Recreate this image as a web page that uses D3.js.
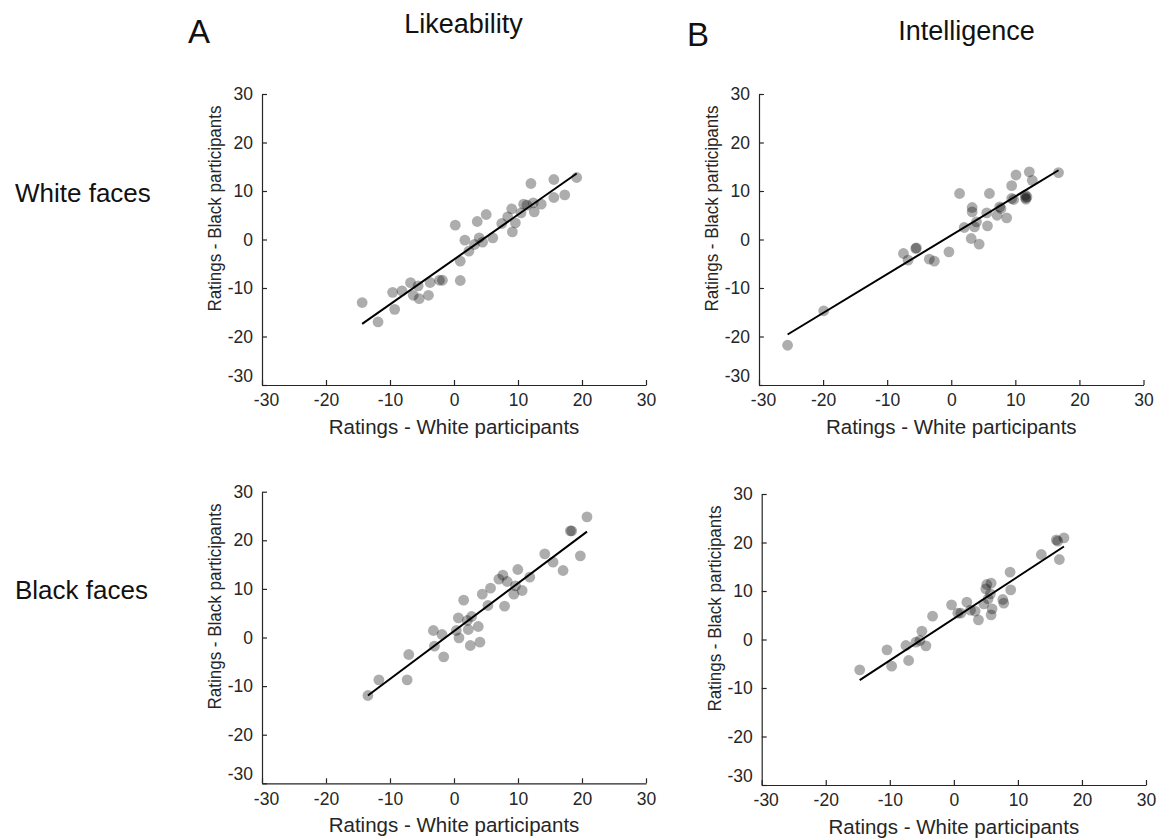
<!DOCTYPE html>
<html>
<head>
<meta charset="utf-8">
<script src="https://cdn.jsdelivr.net/npm/d3@7"></script>
<style>
  html, body { margin: 0; padding: 0; background: #fff; }
  svg { display: block; font-family: "Liberation Sans", Arial, sans-serif; }
</style>
</head>
<body>
<svg id="fig" width="1163" height="840"></svg>
<script>
// Mean ratings per face: White participants (x) vs Black participants (y)
const likeWhiteX = [-14.35,-11.87,-9.59,-9.27,-8.13,-6.79,-6.37,-5.6,-5.44,-3.99,-3.73,-2.28,-1.81,0.2,0.98,0.98,1.7,2.33,3.2,3.63,3.94,4.46,5.03,6.06,7.46,8.39,9.02,9.12,9.59,10.47,10.88,11.4,12.02,12.38,12.54,13.63,15.6,15.6,17.3,19.17];
const likeWhiteY = [-13.0,-17.0,-10.9,-14.4,-10.6,-8.9,-11.5,-9.55,-12.2,-11.5,-8.87,-8.4,-8.4,2.96,-4.47,-8.45,-0.14,-2.4,-1.03,3.71,0.34,-0.55,5.15,0.34,3.3,4.67,6.32,1.58,3.44,5.5,7.29,7.08,11.55,7.56,5.7,7.29,12.37,8.66,9.2,12.78];

const intelWhiteX = [-25.54,-19.9,-7.46,-6.74,-5.44,-5.54,-3.42,-2.64,-0.36,1.3,2.02,3.11,3.26,3.26,3.63,3.94,4.35,5.54,5.65,5.96,7.15,7.56,7.77,8.65,9.43,9.43,9.74,10.1,11.55,11.66,11.6,11.81,12.18,12.64,16.74];
const intelWhiteY = [-21.8,-14.7,-2.89,-4.26,-1.72,-1.86,-4.06,-4.47,-2.54,9.48,2.47,0.21,6.6,5.7,2.6,3.64,-0.96,5.5,2.82,9.48,5.0,6.74,6.4,4.47,11.1,8.45,8.25,13.3,9.14,8.3,8.6,8.8,13.95,12.2,13.8];

const likeBlackX = [-13.45,-11.74,-7.32,-7.07,-3.22,-3.06,-1.87,-1.61,0.36,0.78,0.68,1.51,2.08,2.23,2.55,2.75,3.79,4.05,4.42,5.3,5.71,7.01,7.64,7.9,8.31,9.35,9.61,9.97,10.65,11.84,14.18,15.48,17.04,18.18,18.39,19.74,20.78];
const likeBlackY = [-11.93,-8.71,-8.71,-3.5,1.44,-1.78,0.62,-3.98,1.44,-0.07,4.05,7.68,3.5,1.65,-1.65,4.32,2.26,-0.96,8.92,6.58,10.15,12.0,12.83,6.45,11.52,8.92,10.63,13.99,9.67,12.41,17.22,15.5,13.79,21.95,21.95,16.8,24.83];

const intelBlackX = [-14.7,-10.44,-9.71,-7.48,-7.06,-5.92,-5.3,-4.99,-4.36,-3.32,-0.36,0.62,1.09,2.03,2.6,3.32,3.84,4.68,4.99,5.14,5.35,5.71,5.82,5.82,5.97,7.64,7.79,8.78,8.88,13.66,16.0,16.21,16.47,17.19];
const intelBlackY = [-6.25,-2.13,-5.5,-1.24,-4.33,-0.55,-0.21,1.72,-1.31,4.81,7.15,5.43,5.43,7.7,6.05,5.84,4.05,7.35,10.45,11.34,8.38,9.42,11.62,5.09,6.32,8.25,7.49,13.88,10.24,17.53,20.55,20.27,16.49,20.96];

// Least-squares fit lines (slope, intercept) for each panel
const fitSlope     = [0.925, 0.801, 0.985, 0.864];
const fitIntercept = [-4.12, 0.87, 1.32, 4.32];

// Axis settings and labels
const axisDomain = [-30, 30];
const tickValues = [-30, -20, -10, 0, 10, 20, 30];
const columnTitles = ["Likeability", "Intelligence"];
const panelLetters = ["A", "B"];
const rowTitles = ["White faces", "Black faces"];
const xLabel = "Ratings - White participants";
const yLabel = "Ratings - Black participants";

const svg = d3.select("#fig");
const axisColor = "#262626";
const tickFmt = d => String(d);   // plain hyphen-minus, as in the figure

// Panel frames in pixels
const panels = [
  { xs: likeWhiteX,  ys: likeWhiteY,  fit: 0, left: 262,   right: 646,   top: 94,    bottom: 385 },
  { xs: intelWhiteX, ys: intelWhiteY, fit: 1, left: 759,   right: 1143.5,top: 94,    bottom: 385 },
  { xs: likeBlackX,  ys: likeBlackY,  fit: 2, left: 262,   right: 646,   top: 491.7, bottom: 783.3 },
  { xs: intelBlackX, ys: intelBlackY, fit: 3, left: 761.7, right: 1146,  top: 494,   bottom: 785 }
];

panels.forEach((p) => {
  const x = d3.scaleLinear().domain(axisDomain).range([p.left, p.right]);
  const y = d3.scaleLinear().domain(axisDomain).range([p.bottom, p.top]);
  const g = svg.append("g");

  // x axis with inward ticks
  const gx = g.append("g")
    .attr("transform", `translate(0,${p.bottom})`)
    .call(d3.axisBottom(x).tickValues(tickValues).tickSizeInner(-5).tickSizeOuter(0).tickPadding(9).tickFormat(tickFmt));
  gx.select(".domain").attr("stroke", axisColor).attr("stroke-width", 1.2);
  gx.selectAll(".tick line").attr("stroke", axisColor).attr("stroke-width", 1.2);
  gx.selectAll(".tick text")
    .attr("fill", axisColor).attr("font-size", 17.5)
    .attr("dx", d => d === -30 ? 4 : 0);

  // y axis with inward ticks
  const gy = g.append("g")
    .attr("transform", `translate(${p.left},0)`)
    .call(d3.axisLeft(y).tickValues(tickValues).tickSizeInner(-5).tickSizeOuter(0).tickPadding(9).tickFormat(tickFmt));
  gy.select(".domain").attr("stroke", axisColor).attr("stroke-width", 1.2);
  gy.selectAll(".tick line").attr("stroke", axisColor).attr("stroke-width", 1.2);
  gy.selectAll(".tick text")
    .attr("fill", axisColor).attr("font-size", 17.5)
    .attr("dy", d => d === -30 ? "-0.2em" : "0.32em");

  // axis labels
  g.append("text")
    .attr("x", x(0)).attr("y", p.bottom + 49)
    .attr("text-anchor", "middle").attr("font-size", 20.5).attr("fill", axisColor)
    .text(xLabel);
  const ly = (p.top + p.bottom) / 2 - 31;
  g.append("text")
    .attr("transform", `translate(${p.left - 41},${ly}) rotate(-90)`)
    .attr("text-anchor", "middle").attr("font-size", 18).attr("fill", axisColor)
    .attr("textLength", 206).attr("lengthAdjust", "spacingAndGlyphs")
    .text(yLabel);

  // scatter points
  const pts = p.xs.map((v, i) => ({ x: v, y: p.ys[i] }));
  g.append("g").selectAll("circle").data(pts).join("circle")
    .attr("cx", d => x(d.x)).attr("cy", d => y(d.y)).attr("r", 5.4)
    .attr("fill", "#000").attr("fill-opacity", 0.32);

  // regression line over the observed x range
  const [x0, x1] = d3.extent(p.xs);
  const m = fitSlope[p.fit], b = fitIntercept[p.fit];
  g.append("line")
    .attr("x1", x(x0)).attr("y1", y(m * x0 + b))
    .attr("x2", x(x1)).attr("y2", y(m * x1 + b))
    .attr("stroke", "#000").attr("stroke-width", 2);
});

// Column titles and panel letters
const titleX = [463.5, 966.5];
const titleY = [33, 40];
const letterX = [188, 687];
const letterY = [43, 46];
columnTitles.forEach((t, i) => {
  svg.append("text").attr("x", titleX[i]).attr("y", titleY[i])
    .attr("text-anchor", "middle").attr("font-size", 27).attr("fill", "#111").text(t);
  svg.append("text").attr("x", letterX[i]).attr("y", letterY[i])
    .attr("font-size", 33).attr("fill", "#111").text(panelLetters[i]);
});

// Row titles
const rowY = [201.7, 599];
rowTitles.forEach((t, i) => {
  svg.append("text").attr("x", 15).attr("y", rowY[i])
    .attr("font-size", 26).attr("fill", "#111").text(t);
});
</script>
</body>
</html>
